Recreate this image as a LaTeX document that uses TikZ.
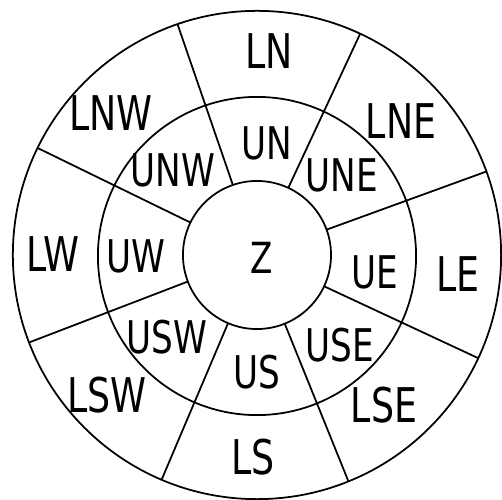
\documentclass[tikz,border=0pt]{standalone}
\usepackage{fontspec}
\newfontfamily\tagfont[FakeStretch=0.76]{DejaVu Sans}
\usetikzlibrary{positioning}
\tikzset{ring/.style={circle,draw,line width=0.5pt,inner sep=0,outer sep=0},
 tag/.style={font=\tagfont\fontsize{13.6}{15}\selectfont,inner sep=0},
 utag/.style={font=\tagfont\fontsize{12.8}{14}\selectfont,inner sep=0}}

\begin{document}
\begin{tikzpicture}[x=0.01cm,y=0.01cm]
\useasboundingbox (-257,-245) rectangle (245,255);
\node[ring,minimum size=1.48cm] (zc) at (0,0) {};
\node[ring,minimum size=3.18cm] (uc) at (0,-1) {};
\node[ring,minimum size=4.88cm] (lc) at (0,0) {};
\foreach \a in {109.5,65.6,20.8,-25.1,-68.9,-113.5,-159.4,154.7}
  \draw[line width=0.5pt] (zc.\a)--(lc.\a);
% outer ring
\node[tag] (ln) at (12,204) {LN};
\node[tag] (lne) at (144,134) {LNE};
\node[tag] (le) at (201,-19) {LE};
\node[tag] (lse) at (127,-150) {LSE};
\node[tag] (ls) at (-4,-202) {LS};
\node[tag] (lsw) at (-150,-140) {LSW};
\node[tag] (lw) at (-204,1) {LW};
\node[tag] (lnw) at (-146,142) {LNW};
% inner ring
\node[utag] (un) at (10,112) {UN};
\node[utag] (une) at (85,80) {UNE};
\node[utag] (ue) at (118,-17) {UE};
\node[utag] (use) at (83,-90) {USE};
\node[utag] (us) at (0,-117) {US};
\node[utag] (usw) at (-90,-82) {USW};
\node[utag] (uw) at (-121,-1) {UW};
\node[utag] (unw) at (-84,85) {UNW};
\node[font=\tagfont\fontsize{12.2}{13}\selectfont,inner sep=0] (z) at (5,-3) {Z};
\end{tikzpicture}
\end{document}
